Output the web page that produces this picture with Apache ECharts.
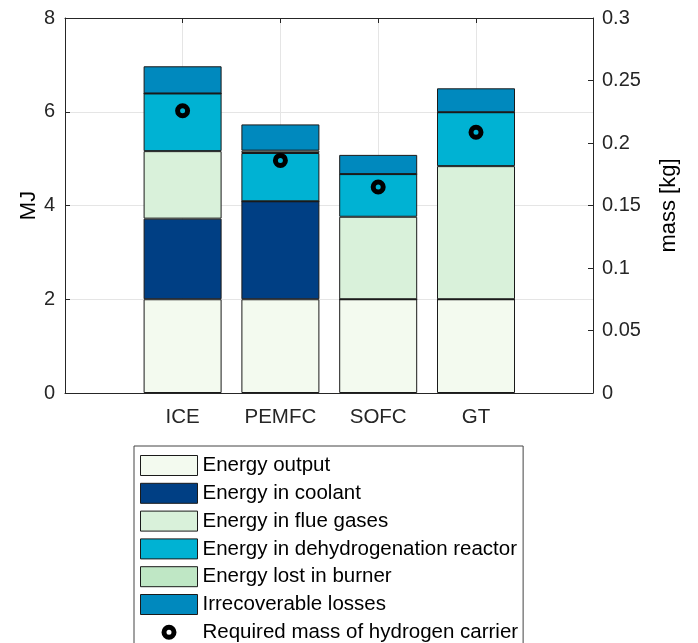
<!DOCTYPE html>
<html>
<head>
<meta charset="utf-8">
<script type="text/javascript" src="https://cdn.jsdelivr.net/npm/echarts@6/dist/echarts.min.js"></script>
<title>chart</title>
</head>
<body style="margin:0">
<div id="main" style="width:698px;height:643px;"></div>
<script type="text/javascript">
    // data
    var categories = ['ICE', 'PEMFC', 'SOFC', 'GT'];
    var positions = [1, 2, 3, 4];
    var energyOutput = [2, 2, 2, 2];
    var energyCoolant = [1.72, 2.09, 0, 0];
    var energyFlue = [1.44, 0, 1.76, 2.84];
    var energyDehydro = [1.23, 1.03, 0.91, 1.15];
    var energyBurner = [0, 0.05, 0, 0];
    var irrecoverable = [0.58, 0.56, 0.41, 0.51];
    var carrierMass = [0.2258, 0.1861, 0.1648, 0.2086];

    var font = 'Liberation Sans';
    var axisColor = '#262626';
    var gridColor = '#e5e5e5';

    function pairs(vals) {
        return positions.map(function (p, i) { return [p, vals[i]]; });
    }

    // stacked bars sit on a plain category grid (grid 2)
    function barSeries(name, vals, color) {
        return {
            name: name,
            type: 'bar',
            stack: 'energy',
            xAxisIndex: 4,
            yAxisIndex: 4,
            barWidth: 78,
            itemStyle: { color: color, borderColor: '#1a1a1a', borderWidth: 1 },
            data: vals
        };
    }

    // ring icon for the legend (filled, no stroke so the row keeps its height)
    var ringIcon = 'path://M0,0M20,20M17.5,10A7.5,7.5,0,1,0,2.5,10A7.5,7.5,0,1,0,17.5,10Z' +
        'M12.5,10A2.5,2.5,0,1,1,7.5,10A2.5,2.5,0,1,1,12.5,10Z';

    var myChart = echarts.init(document.getElementById('main'));

    var option = {
        animation: false,
        textStyle: { fontFamily: font },
        grid: [
            { left: 65, right: 105, top: 18, bottom: 250 },
            { left: 182.6, right: 222, top: 18, bottom: 250 },
            { left: 133.7, right: 173.1, top: 18, bottom: 250 }
        ],
        xAxis: [
            {
                gridIndex: 0, type: 'value', min: 0, max: 1, position: 'bottom',
                axisLine: { onZero: false, lineStyle: { color: axisColor } },
                axisTick: { show: false }, axisLabel: { show: false }, splitLine: { show: false }
            },
            {
                gridIndex: 0, type: 'value', min: 0, max: 1, position: 'top',
                axisLine: { onZero: false, lineStyle: { color: axisColor } },
                axisTick: { show: false }, axisLabel: { show: false }, splitLine: { show: false }
            },
            {
                gridIndex: 1, type: 'value', min: 1, max: 4, interval: 1, position: 'bottom',
                axisLine: { show: false, onZero: false },
                axisTick: { inside: true, length: 5, lineStyle: { color: axisColor } },
                axisLabel: {
                    margin: 14, fontSize: 20.5, color: axisColor, fontFamily: font,
                    formatter: function (v) { return categories[positions.indexOf(v)] || ''; }
                },
                splitLine: { show: true, lineStyle: { color: gridColor } }
            },
            {
                gridIndex: 1, type: 'value', min: 1, max: 4, interval: 1, position: 'top',
                axisLine: { show: false, onZero: false },
                axisTick: { inside: true, length: 5, lineStyle: { color: axisColor } },
                axisLabel: { show: false }, splitLine: { show: false }
            },
            { gridIndex: 2, type: 'category', data: categories, show: false }
        ],
        yAxis: [
            {
                gridIndex: 0, type: 'value', min: 0, max: 8, interval: 2, position: 'left',
                name: 'MJ', nameLocation: 'middle', nameGap: 25, nameMoveOverlap: false,
                nameTextStyle: { fontSize: 22, color: '#000', fontFamily: font },
                axisLine: { show: true, onZero: false, lineStyle: { color: axisColor } },
                axisTick: { inside: true, length: 5, lineStyle: { color: axisColor } },
                axisLabel: { margin: 10, fontSize: 20, color: axisColor, fontFamily: font },
                splitLine: { show: true, lineStyle: { color: gridColor } }
            },
            {
                gridIndex: 0, type: 'value', min: 0, max: 0.3, interval: 0.05, position: 'right',
                name: 'mass [kg]', nameLocation: 'middle', nameGap: 65, nameRotate: 90, nameMoveOverlap: false,
                nameTextStyle: { fontSize: 22, color: '#000', fontFamily: font },
                axisLine: { show: true, onZero: false, lineStyle: { color: axisColor } },
                axisTick: { inside: true, length: 5, lineStyle: { color: axisColor } },
                axisLabel: { margin: 9, fontSize: 20, color: axisColor, fontFamily: font },
                splitLine: { show: false }
            },
            { gridIndex: 1, type: 'value', min: 0, max: 8, show: false },
            { gridIndex: 1, type: 'value', min: 0, max: 0.3, show: false },
            { gridIndex: 2, type: 'value', min: 0, max: 8, show: false }
        ],
        legend: {
            orient: 'vertical', left: 134, top: 446, height: 210,
            padding: [9, 5, 8, 6],
            itemWidth: 57, itemHeight: 20, itemGap: 6.8,
            borderColor: '#444', borderWidth: 1,
            selectedMode: false,
            itemStyle: { borderWidth: 1 },
            textStyle: { fontSize: 20.5, color: '#000', fontFamily: font },
            data: [
                { name: 'Energy output', icon: 'rect' },
                { name: 'Energy in coolant', icon: 'rect' },
                { name: 'Energy in flue gases', icon: 'rect' },
                { name: 'Energy in dehydrogenation reactor', icon: 'rect' },
                { name: 'Energy lost in burner', icon: 'rect' },
                { name: 'Irrecoverable losses', icon: 'rect' },
                {
                    name: 'Required mass of hydrogen carrier',
                    icon: ringIcon,
                    itemStyle: { color: '#000', borderWidth: 0, opacity: 1 }
                }
            ]
        },
        series: [
            barSeries('Energy output', energyOutput, '#f3faef'),
            barSeries('Energy in coolant', energyCoolant, '#003f84'),
            barSeries('Energy in flue gases', energyFlue, '#d9f1da'),
            barSeries('Energy in dehydrogenation reactor', energyDehydro, '#00b2d3'),
            barSeries('Energy lost in burner', energyBurner, '#bfe7c5'),
            barSeries('Irrecoverable losses', irrecoverable, '#0089be'),
            {
                name: 'Required mass of hydrogen carrier',
                type: 'scatter',
                xAxisIndex: 2,
                yAxisIndex: 3,
                symbol: 'circle',
                symbolSize: 10,
                z: 5,
                itemStyle: { color: 'rgba(0,0,0,0)', borderColor: '#000', borderWidth: 5, opacity: 1 },
                data: pairs(carrierMass)
            }
        ]
    };
    myChart.setOption(option);
</script>
</body>
</html>
